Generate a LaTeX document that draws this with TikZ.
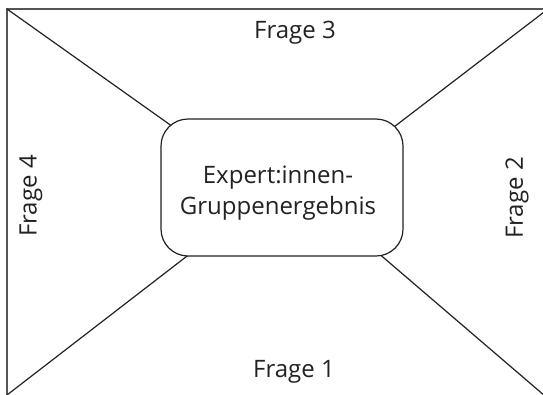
\documentclass[tikz,border=0pt]{standalone}
\usepackage{fontspec}
\setmainfont{Open Sans}
\usetikzlibrary{positioning}
\definecolor{ink}{HTML}{222222}
\definecolor{framegray}{HTML}{555555}

\begin{document}
\begin{tikzpicture}[x=1pt, y=-1pt]
		\useasboundingbox (0,0) rectangle (543,394);
		\clip (0,0) rectangle (543,394);
		% frame corners and inner ends of the diagonals
		\coordinate (tl) at (7,9);
		\coordinate (tr) at (548,9);
		\coordinate (bl) at (7,395);
		\coordinate (br) at (545,396);
		\coordinate (itl) at (176,129);
		\coordinate (itr) at (390,130);
		\coordinate (ibl) at (191,253);
		\coordinate (ibr) at (377,252);
		\draw[framegray, line width=1.8pt] (tl) rectangle (br);
		\begin{scope}[every path/.style={draw=ink, line width=1.2pt}]
			\path (tl) -- (itl);
			\path (tr) -- (itr);
			\path (bl) -- (ibl);
			\path (br) -- (ibr);
		\end{scope}
		\begin{scope}[every node/.style={text=ink, font=\fontsize{24}{31}\selectfont}]
			\node[draw=ink, line width=1.2pt, fill=white, rounded corners=27pt,
			minimum width=242pt, minimum height=137pt] (box) at (282,187.5) {};
			\node[align=center] (result) at (278,193) {Expert:innen-\\Gruppenergebnis};
			\node (f3) at (295,33) {Frage 3};
			\node (f1) at (294,372) {Frage 1};
			\node[rotate=90] (f4) at (31,196) {Frage 4};
			\node[rotate=90] (f2) at (517,198) {Frage 2};
		\end{scope}
	\end{tikzpicture}
\end{document}
